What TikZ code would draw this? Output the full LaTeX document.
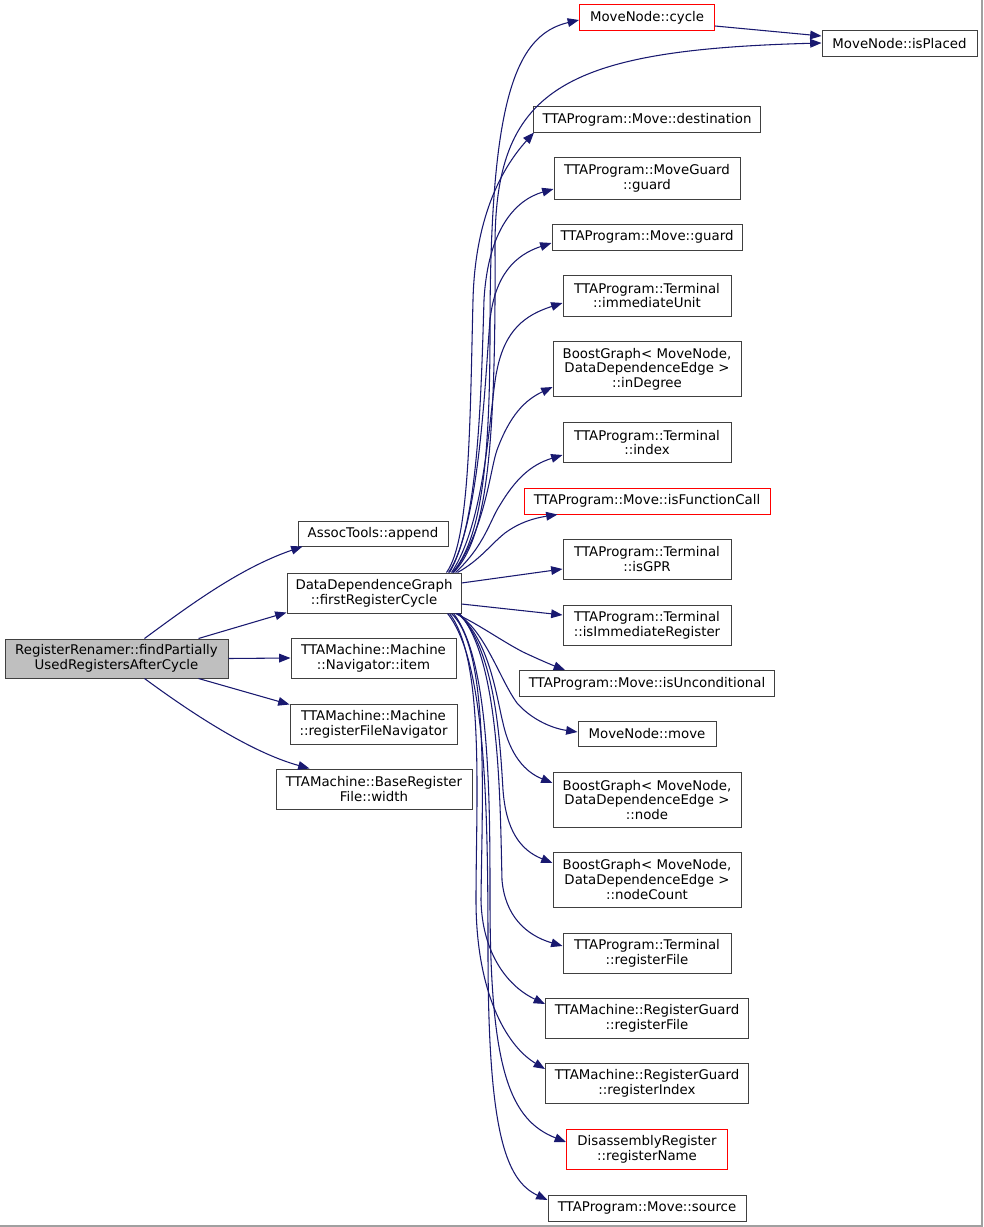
\documentclass[tikz,border=0pt]{standalone}
\usepackage{fontspec}
\setmainfont{DejaVu Sans}
\usetikzlibrary{arrows.meta,calc}
\definecolor{edgeblue}{HTML}{191970}
\definecolor{boxline}{HTML}{404040}
\definecolor{rootfill}{HTML}{BFBFBF}
\definecolor{framegrey}{HTML}{A0A0A0}
\begin{document}
\begin{tikzpicture}[x=0.75pt,y=-0.75pt,
  box/.style={draw=boxline, fill=white, line width=0.75pt, inner sep=0pt, align=center,
    font=\fontsize{10}{11}\selectfont},
  redbox/.style={box, draw=red},
  rootbox/.style={box, fill=rootfill},
  sz/.style 2 args={minimum width=#1*0.75pt, minimum height=#2*0.75pt},
  e/.style={draw=edgeblue, line width=0.8pt, -{Triangle[length=8.5pt,width=6.5pt]}}]
\useasboundingbox (0,0) rectangle (983,1227);
\fill[white] (0,0) rectangle (983,1227);
\draw[framegrey, line width=1.2pt] (0,1226) -- (982,1226) -- (982,0);

% left part
\node[rootbox, sz={223}{39}] (root) at (116.5,658.5) {RegisterRenamer::findPartially\\UsedRegistersAfterCycle};
\node[box, sz={150}{25}] (append) at (373,533.5) {AssocTools::append};
\node[box, sz={174}{40}] (ddg) at (374,593) {DataDependenceGraph\\::firstRegisterCycle};
\node[box, sz={165}{40}] (item) at (373.5,658) {TTAMachine::Machine\\::Navigator::item};
\node[box, sz={167}{40}] (rfn) at (373.5,724) {TTAMachine::Machine\\::registerFileNavigator};
\node[box, sz={196}{40}] (width) at (374,789) {TTAMachine::BaseRegister\\File::width};

% right column
\node[redbox, sz={135}{26}] (cycle) at (647,18) {MoveNode::cycle};
\node[box, sz={155}{26}] (placed) at (899.5,44) {MoveNode::isPlaced};
\node[box, sz={227}{26}] (dest) at (647,120) {TTAProgram::Move::destination};
\node[box, sz={186}{41}] (mguard) at (647,178.5) {TTAProgram::MoveGuard\\::guard};
\node[box, sz={190}{26}] (mvguard) at (647,237) {TTAProgram::Move::guard};
\node[box, sz={168}{41}] (immu) at (647,295.5) {TTAProgram::Terminal\\::immediateUnit};
\node[box, sz={188}{55}] (indeg) at (647,369) {BoostGraph< MoveNode,\\DataDependenceEdge >\\::inDegree};
\node[box, sz={168}{40}] (index) at (647,442.5) {TTAProgram::Terminal\\::index};
\node[redbox, sz={246}{26}] (isfc) at (647,501) {TTAProgram::Move::isFunctionCall};
\node[box, sz={168}{40}] (isgpr) at (647,559) {TTAProgram::Terminal\\::isGPR};
\node[box, sz={168}{40}] (isimm) at (647,625) {TTAProgram::Terminal\\::isImmediateRegister};
\node[box, sz={255}{26}] (isunc) at (647,683.5) {TTAProgram::Move::isUnconditional};
\node[box, sz={138}{25}] (move) at (647,734) {MoveNode::move};
\node[box, sz={188}{55}] (node) at (647,800) {BoostGraph< MoveNode,\\DataDependenceEdge >\\::node};
\node[box, sz={188}{55}] (ncount) at (647,879.5) {BoostGraph< MoveNode,\\DataDependenceEdge >\\::nodeCount};
\node[box, sz={168}{40}] (trf) at (647,953) {TTAProgram::Terminal\\::registerFile};
\node[box, sz={203}{40}] (rgrf) at (647,1018.5) {TTAMachine::RegisterGuard\\::registerFile};
\node[box, sz={203}{40}] (rgri) at (647,1083.5) {TTAMachine::RegisterGuard\\::registerIndex};
\node[redbox, sz={161}{40}] (rname) at (647,1149) {DisassemblyRegister\\::registerName};
\node[box, sz={198}{26}] (source) at (647,1208) {TTAProgram::Move::source};

% root edges
\draw[e] ($(root.north west)+(140,0)$) .. controls (190,605) and (240,568) .. ($(append.south west)+(5,0)$);
\draw[e] ($(root.north east)+(-30,0)$) -- ($(ddg.south west)+(0,-1)$);
\draw[e] (root.east) -- (item.west);
\draw[e] ($(root.south east)+(-30,0)$) -- ($(rfn.north west)+(0,1)$);
\draw[e] ($(root.south west)+(140,0)$) .. controls (190,712) and (250,752) .. ($(width.north west)+(34,0)$);

% cycle -> isPlaced
\draw[e] ($(cycle.east)+(0,8)$) -- ($(placed.west)+(0,-8)$);

% upper edges from ddg
\draw[e] ($(ddg.north east)+(-9,0)$) .. controls (480,540) and (490,470) .. (490,330)
  .. controls (490,100) and (515,35) .. ($(cycle.west)+(0,2)$);
\draw[e] ($(ddg.north east)+(-8,0)$) .. controls (485,540) and (496,460) .. (495,250)
  .. controls (494,90) and (560,50) .. ($(placed.west)+(0,-1)$);
\draw[e] ($(ddg.north east)+(-15,0)$) .. controls (470,540) and (470,420) .. (473,300)
  .. controls (475,220) and (500,170) .. ($(dest.south west)+(1,-1)$);
\draw[e] ($(ddg.north east)+(-13,0)$) .. controls (478,530) and (481,400) .. (484,300)
  .. controls (488,230) and (515,200) .. ($(mguard.west)+(0,10.5)$);
\draw[e] ($(ddg.north east)+(-12,0)$) .. controls (480,520) and (485,380) .. (490,320)
  .. controls (495,275) and (515,255) .. ($(mvguard.west)+(0,6)$);
\draw[e] ($(ddg.north east)+(-10,0)$) .. controls (487,520) and (490,400) .. (497,370)
  .. controls (505,330) and (525,315) .. ($(immu.west)+(0,7.5)$);
\draw[e] ($(ddg.north east)+(-8,0)$) .. controls (485,530) and (490,470) .. (497,450)
  .. controls (510,415) and (525,400) .. ($(indeg.west)+(0,18)$);
\draw[e] ($(ddg.north east)+(-6,0)$) .. controls (485,545) and (490,520) .. (500,505)
  .. controls (515,480) and (530,465) .. ($(index.west)+(0,12.5)$);
\draw[e] ($(ddg.north east)+(-4,0)$) .. controls (480,560) and (490,545) .. (505,533)
  .. controls (520,522) and (535,518) .. ($(isfc.south west)+(34,0)$);

% straight
\draw[e] ($(ddg.east)+(0,-10)$) -- ($(isgpr.west)+(0,10)$);
\draw[e] ($(ddg.east)+(0,11)$) -- ($(isimm.west)+(0,-10)$);

% lower edges from ddg
\draw[e] ($(ddg.south east)+(-6,0)$) .. controls (480,625) and (500,640) .. (523,652)
  .. controls (540,660) and (552,665) .. ($(isunc.north west)+(46,0)$);
\draw[e] ($(ddg.south east)+(-5,0)$) .. controls (485,630) and (500,680) .. (517,703)
  .. controls (530,718) and (550,728) .. ($(move.west)+(0,-2)$);
\draw[e] ($(ddg.south east)+(-4,0)$) .. controls (490,640) and (497,700) .. (503,723)
  .. controls (510,755) and (525,772) .. ($(node.west)+(0,-17)$);
\draw[e] ($(ddg.south east)+(-3,0)$) .. controls (495,650) and (500,740) .. (503,790)
  .. controls (506,830) and (520,850) .. ($(ncount.west)+(0,-16.5)$);
\draw[e] ($(ddg.south east)+(-2,0)$) .. controls (500,660) and (500,800) .. (502,880)
  .. controls (505,915) and (525,935) .. ($(trf.west)+(0,-7)$);
\draw[e] ($(ddg.south east)+(-10,0)$) .. controls (490,650) and (482,800) .. (481,900)
  .. controls (482,950) and (505,985) .. ($(rgrf.west)+(0,-14.5)$);
\draw[e] ($(ddg.south east)+(-12,0)$) .. controls (485,660) and (476,800) .. (476,900)
  .. controls (476,990) and (505,1045) .. ($(rgri.west)+(0,-14.5)$);
\draw[e] ($(ddg.south east)+(-8,0)$) .. controls (490,660) and (490,800) .. (490,900)
  .. controls (490,1070) and (510,1120) .. ($(rname.west)+(0,-7)$);
\draw[e] ($(ddg.south east)+(-14,0)$) .. controls (485,660) and (488,800) .. (488,950)
  .. controls (488,1130) and (505,1180) .. ($(source.west)+(0,-8)$);
\end{tikzpicture}
\end{document}
